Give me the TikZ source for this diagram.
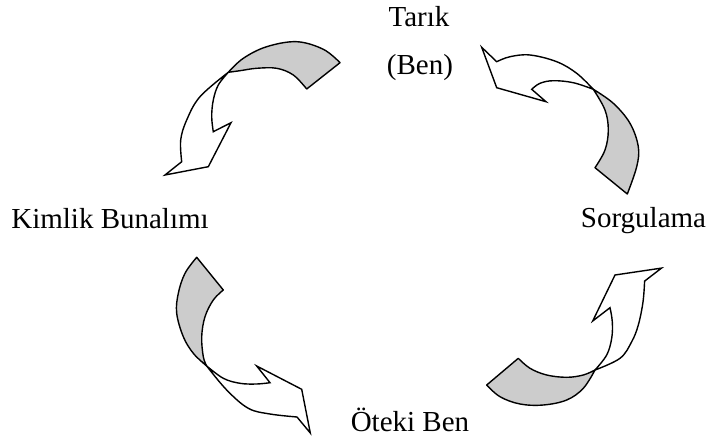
\documentclass[tikz,border=0pt]{standalone}
\usepackage{fontspec}
\setmainfont{Liberation Serif}
\begin{document}
\tikzset{
  backface/.style={fill=black!20, draw=black, line width=1.4pt, line join=round},
  frontface/.style={fill=white, draw=black, line width=1.4pt, line join=miter},
  lbl/.style={font=\fontsize{29}{34}\selectfont, inner sep=0pt, anchor=base},
  crv/.style={smooth, tension=0.6}
}
\begin{tikzpicture}[x=1pt,y=-1pt]
\useasboundingbox (0,0) rectangle (707,439);

% labels
\node[lbl] (tarik) at (419,26) {Tarık};
\node[lbl] (ben) at (420,74) {(Ben)};
\node[lbl] (kimlik) at (110,228.3) {Kimlik Bunalımı};
\node[lbl] (sorgu) at (643.5,227.3) {Sorgulama};
\node[lbl] (oteki) at (410,431.7) {Öteki Ben};

% arrow A: Tarik -> Kimlik Bunalimi
\filldraw[backface] plot[crv] coordinates {(340,62.7) (323.3,49.3) (296.7,41.7) (266.7,46.7) (243.3,58.3) (228.3,72.3)}
  -- plot[crv] coordinates {(228.3,72.3) (240,70.7) (256.7,68.3) (276.7,68.3) (293.3,75) (306.7,89)} -- cycle;
\filldraw[frontface] plot[crv] coordinates {(228.3,72.3) (218.3,85) (213.3,100) (211.7,116.7) (213.3,131.7)}
  -- (231,122.7) -- (208.3,166.7) -- (165,175) -- (181.7,161.7)
  -- plot[crv] coordinates {(181.7,161.7) (180.7,140) (186.7,120) (200,96.7) (228.3,72.3)} -- cycle;

% arrow B: Sorgulama -> Tarik
\filldraw[backface] plot[crv] coordinates {(627.3,194) (636.7,166.7) (638.3,146.7) (630,123.3) (613.3,103.3) (593.3,89.3)}
  -- plot[crv] coordinates {(593.3,89.3) (605,110) (608.3,130) (605,150) (595,167.7)} -- cycle;
\filldraw[frontface] plot[crv] coordinates {(593.3,89.3) (573.3,82.7) (553.3,80.7) (540,83.3) (531.7,89.3)}
  -- (546,101.7) -- (496.7,87.7) -- (481.7,47.3) -- (496.7,61.7)
  -- plot[crv] coordinates {(496.7,61.7) (510,56.7) (530,55) (556.7,61.7) (576.7,73.3) (593.3,89.3)} -- cycle;

% arrow C: Kimlik Bunalimi -> Oteki Ben
\filldraw[backface] plot[crv] coordinates {(196.7,257.3) (185,273.3) (178.3,293.3) (176.7,313.3) (183.3,336.7) (193.3,353.3) (206.7,366)}
  -- plot[crv] coordinates {(206.7,366) (203.3,356.7) (201.7,336.7) (205,316.7) (213.3,300) (223.3,290)} -- cycle;
\filldraw[frontface] plot[crv] coordinates {(206.7,366) (223.3,378.3) (240,383.3) (256.7,384) (270,382.7)}
  -- (256.7,366) -- (301.7,389.3) -- (310.3,433) -- (297,417)
  -- plot[crv] coordinates {(297,417) (270,414) (248.3,408.3) (226.7,390) (206.7,366)} -- cycle;

% arrow D: Oteki Ben -> Sorgulama
\filldraw[backface] plot[crv] coordinates {(486.7,385) (500,396.7) (520,404) (543.3,405) (566.7,400) (583.3,388.3) (595,370)}
  -- plot[crv] coordinates {(595,370) (583.3,375) (566.7,377.3) (546.7,375) (530,368.3) (518.3,358.3)} -- cycle;
\filldraw[frontface] plot[crv] coordinates {(595,370) (606.7,355) (611.7,338.3) (612.3,321.7) (610,307.7)}
  -- (592.7,321) -- (615,275) -- (661.5,268.1) -- (644.6,281.1)
  -- plot[crv] coordinates {(644.6,281.1) (643,302) (638.3,325) (631.7,341.7) (620,358.3) (595,370)} -- cycle;
\end{tikzpicture}
\end{document}
